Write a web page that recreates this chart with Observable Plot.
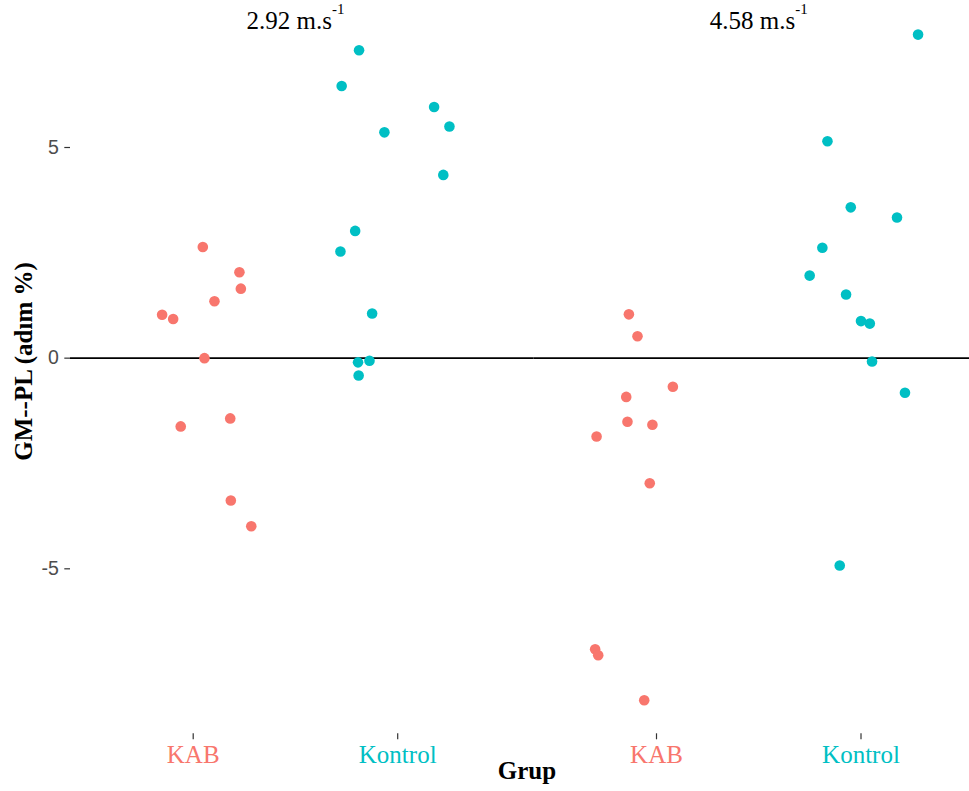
<!DOCTYPE html>
<html>
<head>
<meta charset="utf-8">
<style>
  html, body { margin: 0; padding: 0; background: #ffffff; overflow: hidden; }
  #chart svg { overflow: hidden !important; display: block; }
</style>
<script src="https://cdn.jsdelivr.net/npm/d3@7"></script>
<script src="https://cdn.jsdelivr.net/npm/@observablehq/plot@0.6"></script>
</head>
<body>
<div id="chart"></div>
<script>
// ---- data ----
const speeds = ["2.92", "4.58"];
const speedUnit = " m.s";
const speedUnitSup = "-1";
const groups = ["KAB", "Kontrol"];
const groupColors = ["#F8766D", "#00BFC4"];
const yTicks = [-5, 0, 5];
const xTitle = "Grup";
const yTitle = "GM--PL (adım %)";

// 2.92 m.s-1
const kab292 = [2.64, 2.04, 1.65, 1.35, 1.03, 0.93, 0.00, -1.62, -1.43, -3.38, -3.99];
const kab292Jitter = [0.047, 0.226, 0.233, 0.104, -0.152, -0.098, 0.055, -0.061, 0.181, 0.184, 0.284];
const kon292 = [7.31, 6.46, 5.96, 5.50, 5.36, 4.35, 3.02, 2.53, 1.06, -0.10, -0.06, -0.41];
const kon292Jitter = [-0.189, -0.274, 0.178, 0.253, -0.065, 0.223, -0.208, -0.280, -0.125, -0.194, -0.138, -0.191];
// 4.58 m.s-1
const kab458 = [1.04, 0.52, -0.68, -0.92, -1.51, -1.58, -1.86, -2.97, -6.91, -7.05, -8.12];
const kab458Jitter = [-0.135, -0.093, 0.080, -0.148, -0.142, -0.020, -0.293, -0.033, -0.300, -0.285, -0.060];
const kon458 = [7.68, 5.15, 3.58, 3.34, 2.62, 1.96, 1.51, 0.88, 0.82, -0.08, -0.82, -4.92];
const kon458Jitter = [0.279, -0.164, -0.050, 0.176, -0.189, -0.251, -0.073, 0.000, 0.043, 0.054, 0.215, -0.104];

// ---- build table ----
function rowsOf(speed, group, values, jitter) {
  return values.map((v, i) => ({speed, group, value: v, jitter: jitter[i]}));
}
const rows = [
  ...rowsOf("2.92", "KAB", kab292, kab292Jitter),
  ...rowsOf("2.92", "Kontrol", kon292, kon292Jitter),
  ...rowsOf("4.58", "KAB", kab458, kab458Jitter),
  ...rowsOf("4.58", "Kontrol", kon458, kon458Jitter)
];

const serif = "'Liberation Serif', 'Times New Roman', Times, serif";
const sans = "'Liberation Sans', Arial, Helvetica, sans-serif";

const chart = Plot.plot({
  width: 969,
  height: 791,
  marginLeft: 70,
  marginRight: -27.6,
  marginTop: 3.76,
  marginBottom: 57.7,
  style: {background: "#ffffff"},
  fx: {domain: speeds, paddingInner: 0, paddingOuter: 0, round: false, axis: null},
  x: {domain: [-0.6, 1.6655], axis: null},
  y: {domain: [-8.916, 8.4], axis: null},
  color: {domain: groups, range: groupColors},
  marks: [
    Plot.ruleY([0], {stroke: "#000000", strokeWidth: 1.6}),
    Plot.dot(rows, {
      fx: "speed",
      x: d => groups.indexOf(d.group) + d.jitter,
      y: "value",
      fill: "group",
      r: 5.3,
      stroke: "none"
    }),
    Plot.axisY(yTicks, {
      tickSize: 5.7,
      tickPadding: 6,
      tickFormat: d => String(d),
      fontSize: 19.5,
      fontFamily: sans,
      fill: "#4D4D4D",
      stroke: "#333333",
      strokeWidth: 1.2,
      label: null
    }),
    Plot.axisX(groups.map((g, i) => i), {
      tickSize: 6,
      tickPadding: 5.7,
      tickFormat: i => groups[i],
      fill: i => groups[i],
      fontSize: 25,
      fontFamily: serif,
      stroke: "#333333",
      strokeWidth: 1.2,
      label: null
    }),
    Plot.text(speeds, {
      fx: d => d,
      x: () => (groups.length - 1) / 2,
      frameAnchor: "top",
      lineAnchor: "bottom",
      dy: 25,
      text: d => d + speedUnit,
      fontSize: 25,
      fontFamily: serif,
      fill: "#000000"
    })
  ]
});

document.getElementById("chart").appendChild(chart);

const svg = d3.select(chart);
// superscripts on the speed labels
svg.selectAll("text")
  .filter(function () { return this.textContent.endsWith(speedUnit); })
  .each(function () {
    d3.select(this).append("tspan")
      .attr("dy", -15)
      .attr("font-size", 15)
      .text(speedUnitSup);
  });

// axis titles
svg.append("text")
  .attr("x", 527)
  .attr("y", 779)
  .attr("text-anchor", "middle")
  .attr("font-family", serif)
  .attr("font-weight", "bold")
  .attr("font-size", 25)
  .attr("fill", "#000000")
  .text(xTitle);

svg.append("text")
  .attr("transform", "translate(32,361.5) rotate(-90)")
  .attr("text-anchor", "middle")
  .attr("font-family", serif)
  .attr("font-weight", "bold")
  .attr("font-size", 25)
  .attr("fill", "#000000")
  .text(yTitle);
</script>
</body>
</html>
